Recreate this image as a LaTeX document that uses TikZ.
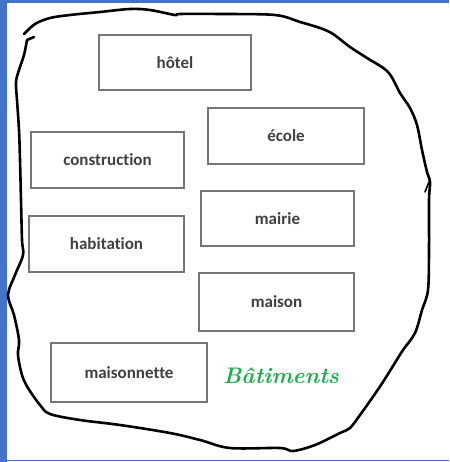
\documentclass[tikz,border=0pt]{standalone}
\usepackage{fontspec}
\newfontfamily\boxfont{Carlito}[Ligatures=NoCommon]
\usetikzlibrary{positioning}
\definecolor{wdframe}{HTML}{4472C4}
\definecolor{wdbox}{HTML}{767676}
\definecolor{wdink}{HTML}{404040}
\definecolor{wdgreen}{HTML}{1EAE4E}
\tikzset{
  wordbox/.style={draw=wdbox,rectangle,fill=white,line width=1.3pt,inner sep=0pt,
    text=wdink,font=\boxfont\bfseries\fontsize{17}{20}\selectfont},
  blobline/.style={draw=black,line width=2.6pt,line join=round,line cap=round},
  setlabel/.style={text=wdgreen,font=\bfseries\itshape\fontsize{22.5}{26}\selectfont},
}
\begin{document}
\begin{tikzpicture}[x=1pt,y=-1pt]
        \fill[white] (0,0) rectangle (449,462);
        \fill[wdframe] (0,0) rectangle (7,462);
        \fill[wdframe] (0,0) rectangle (449,3);
        \fill[wdframe] (0,459.5) rectangle (449,461);
        % hand drawn outline of the set
        \draw[blobline] plot[smooth,tension=0.55] coordinates {
          (27,40) (24,55) (19,70) (16,82) (17,100) (19,130) (20,160) (21,200)
          (22,240) (23,255) (15,275) (8,295) (14,315) (19,340) (18,355)
          (22,375) (28,388) (40,405) (50,414) (80,420) (120,425) (170,433)
          (200,440) (230,448) (280,448) (293,451) (315,445) (340,433)
          (350,428) (360,415) (370,401) (381,385) (393,366) (403,350)
          (415,333) (422,310) (428,290) (429,250) (429,200) (430,182)
          (427,172) (422,150) (417,125) (410,108) (400,93) (388,72)
          (367,58) (350,47) (333,34) (320,28) (300,22) (275,15) (220,14)
          (180,14) (175,15) (150,10) (130,9) (100,12) (70,15) (50,18)
          (35,24) (24,34)};
        \draw[blobline] (27,40) -- (34,37);
        \draw[blobline,line width=1.6pt] (429,182) -- (425,192);
        \foreach \n/\t/\x/\y/\w/\h in {hotel/hôtel/175/62.5/152/55,
            ecole/école/286/136/156/56,
            construction/construction/107.5/160/153/56,
            mairie/mairie/277.5/218.5/153/55,
            habitation/habitation/106.5/244/155/56,
            maison/maison/276.5/302/155/58,
            maisonnette/maisonnette/129/372.5/156/59}
          {\node[wordbox,minimum width=\w pt,minimum height=\h pt] (\n) at (\x,\y) {\t};}
        \node[setlabel] (batiments) at (281,376) {Bâtiments};
        \path[use as bounding box] (0,0) rectangle (449,462);
      \end{tikzpicture}
\end{document}
